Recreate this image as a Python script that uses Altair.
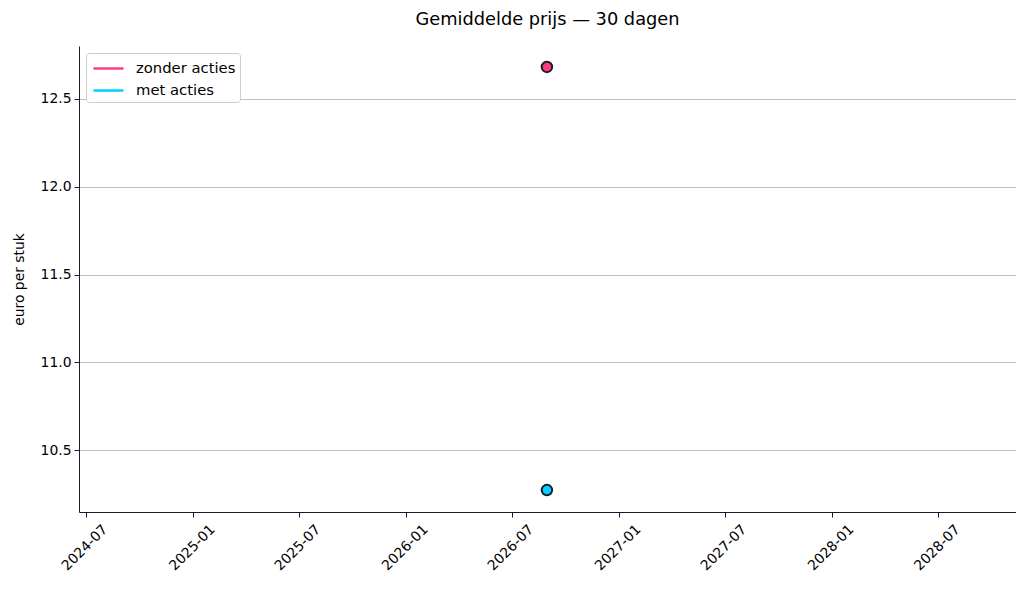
import altair as alt
import pandas as pd

series = ["zonder acties", "met acties"]
dates = ["2026-08-30", "2026-08-30"]
values = [12.682, 10.273]
colors = ["#ff3b7f", "#00d2ff"]
y_ticks = [10.5, 11.0, 11.5, 12.0, 12.5]
x_ticks = [(2024, 7), (2025, 1), (2025, 7), (2026, 1), (2026, 7),
           (2027, 1), (2027, 7), (2028, 1), (2028, 7)]

df = pd.DataFrame({"date": dates, "value": values, "series": series})

FONT = "DejaVu Sans"
DARK = "#1b1b2f"

x_enc = alt.X(
    "date:T",
    scale=alt.Scale(
        type="utc",
        domain=[alt.DateTime(year=2024, month=6, date=19, utc=True),
                alt.DateTime(year=2028, month=11, date=11, utc=True)],
        nice=False,
    ),
    axis=alt.Axis(
        values=[alt.DateTime(year=y, month=m, date=1, utc=True) for y, m in x_ticks],
        format="%Y-%m",
        labelAngle=-45,
        labelAlign="right",
        labelBaseline="middle",
        labelOffset=19,
        labelPadding=10,
        grid=False,
        title=None,
        domainColor=DARK,
        tickColor=DARK,
        tickSize=5,
    ),
)
y_enc = alt.Y(
    "value:Q",
    scale=alt.Scale(domain=[10.148, 12.801], nice=False, zero=False),
    axis=alt.Axis(
        values=y_ticks,
        format=".1f",
        title="euro per stuk",
        titlePadding=14,
        grid=True,
        gridColor="#b0b0b0",
        gridWidth=0.8,
        domainColor=DARK,
        tickColor=DARK,
        tickSize=5,
        labelPadding=3,
    ),
)

color_scale = alt.Scale(domain=series, range=colors)

lines = alt.Chart(df).mark_line(strokeWidth=2.5).encode(
    x=x_enc,
    y=y_enc,
    color=alt.Color(
        "series:N",
        scale=color_scale,
        sort=series,
        legend=alt.Legend(
            title=None,
            orient="top-left",
            offset=7,
            symbolType="M-1.5,0H1.5",
            symbolSize=400,
            symbolStrokeWidth=2.5,
            symbolOffset=7,
            labelOffset=16,
            rowPadding=3,
            padding=4,
            strokeColor="#cccccc",
            fillColor="white",
            cornerRadius=3,
            labelFontSize=14.8,
            labelFont=FONT,
            labelColor="black",
        ),
    ),
)

points = alt.Chart(df).mark_point(
    filled=True, size=110, stroke=DARK, strokeWidth=2, opacity=1
).encode(
    x=x_enc,
    y=y_enc,
    fill=alt.Fill("series:N", scale=color_scale, legend=None),
)

chart = alt.layer(lines, points).properties(
    width=937,
    height=466,
    background="white",
    title=alt.TitleParams("Gemiddelde prijs — 30 dagen", fontSize=17.8,
                          font=FONT, fontWeight="normal", color="black",
                          offset=17, anchor="middle"),
    autosize=alt.AutoSizeParams(type="none"),
    padding={"left": 71, "top": 38, "right": 0, "bottom": 60},
).configure_view(stroke=None).configure_axis(
    labelFont=FONT, titleFont=FONT, labelFontSize=13.9, titleFontSize=13.9,
    labelColor="black", titleColor="black", titleFontWeight="normal",
    domainWidth=1,
)

chart.save("out.html", embed_options={"renderer": "svg", "actions": False})
